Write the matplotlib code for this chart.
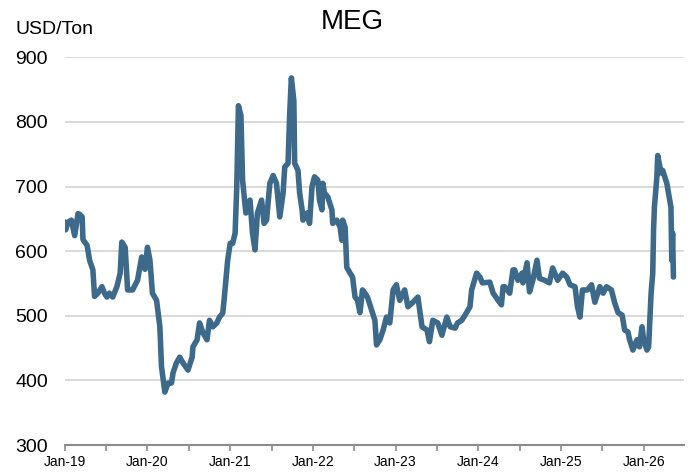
import matplotlib
matplotlib.use("Agg")
import matplotlib.pyplot as plt
from matplotlib.ticker import FixedLocator, MultipleLocator

plt.rcParams['font.family'] = ['Liberation Sans', 'DejaVu Sans']

# Time expressed in decimal years (2019.0 = Jan-19)
years = [
    2019.00, 2019.01, 2019.04, 2019.08, 2019.12, 2019.16, 2019.18, 2019.21, 2019.22, 2019.27,
    2019.30, 2019.34, 2019.36, 2019.40, 2019.45, 2019.48, 2019.51, 2019.54, 2019.58, 2019.63,
    2019.67, 2019.69, 2019.73, 2019.76, 2019.82, 2019.88, 2019.93, 2019.97, 2020.00, 2020.03,
    2020.06, 2020.11, 2020.15, 2020.17, 2020.21, 2020.25, 2020.29, 2020.31, 2020.35, 2020.39,
    2020.43, 2020.49, 2020.54, 2020.55, 2020.60, 2020.63, 2020.67, 2020.72, 2020.75, 2020.79,
    2020.84, 2020.87, 2020.91, 2020.93, 2020.97, 2021.00, 2021.03, 2021.06, 2021.08, 2021.10,
    2021.13, 2021.15, 2021.19, 2021.24, 2021.27, 2021.30, 2021.33, 2021.38, 2021.41, 2021.44,
    2021.48, 2021.52, 2021.56, 2021.60, 2021.64, 2021.66, 2021.70, 2021.72, 2021.74, 2021.77,
    2021.78, 2021.82, 2021.84, 2021.87, 2021.88, 2021.93, 2021.96, 2021.99, 2022.02, 2022.06,
    2022.08, 2022.11, 2022.12, 2022.14, 2022.18, 2022.23, 2022.24, 2022.29, 2022.33, 2022.35,
    2022.36, 2022.39, 2022.41, 2022.45, 2022.48, 2022.51, 2022.54, 2022.57, 2022.60, 2022.63,
    2022.66, 2022.71, 2022.75, 2022.77, 2022.81, 2022.85, 2022.89, 2022.93, 2022.97, 2023.01,
    2023.05, 2023.11, 2023.15, 2023.21, 2023.27, 2023.32, 2023.38, 2023.41, 2023.45, 2023.51,
    2023.56, 2023.62, 2023.66, 2023.72, 2023.75, 2023.80, 2023.84, 2023.90, 2023.92, 2023.98,
    2024.02, 2024.05, 2024.14, 2024.18, 2024.24, 2024.28, 2024.30, 2024.32, 2024.38, 2024.42,
    2024.44, 2024.48, 2024.53, 2024.54, 2024.59, 2024.62, 2024.66, 2024.71, 2024.74, 2024.80,
    2024.86, 2024.90, 2024.96, 2025.02, 2025.07, 2025.11, 2025.17, 2025.20, 2025.23, 2025.26,
    2025.32, 2025.37, 2025.41, 2025.47, 2025.51, 2025.55, 2025.61, 2025.65, 2025.69, 2025.74,
    2025.77, 2025.81, 2025.83, 2025.87, 2025.92, 2025.95, 2025.98, 2026.00, 2026.04, 2026.06,
    2026.09, 2026.11, 2026.12, 2026.13, 2026.16, 2026.17, 2026.21, 2026.23, 2026.28, 2026.30,
    2026.33, 2026.34, 2026.35, 2026.36,
]

price = [
    645, 633, 645, 648, 624, 658, 657, 653, 618, 609,
    586, 571, 530, 535, 545, 535, 529, 535, 529, 545,
    566, 614, 606, 540, 540, 555, 591, 572, 606, 586,
    535, 524, 483, 421, 382, 396, 396, 412, 427, 436,
    427, 416, 436, 452, 463, 489, 474, 463, 493, 483,
    489, 498, 504, 529, 586, 612, 612, 628, 700, 825,
    810, 710, 659, 679, 628, 602, 659, 679, 643, 648,
    705, 717, 705, 653, 690, 730, 736, 813, 868, 833,
    736, 725, 690, 664, 648, 659, 643, 700, 715, 710,
    679, 664, 705, 690, 684, 664, 643, 648, 637, 617,
    648, 637, 575, 566, 560, 529, 524, 505, 540, 535,
    529, 509, 493, 455, 463, 478, 498, 489, 540, 548,
    524, 540, 514, 521, 529, 483, 478, 460, 493, 489,
    470, 498, 483, 481, 489, 493, 501, 514, 540, 566,
    560, 551, 552, 535, 524, 517, 545, 545, 535, 571,
    571, 555, 566, 551, 582, 537, 555, 586, 558, 555,
    551, 574, 555, 566, 560, 548, 545, 514, 498, 540,
    540, 548, 521, 545, 535, 545, 540, 520, 505, 501,
    478, 475, 463, 447, 463, 452, 483, 463, 447, 452,
    535, 566, 633, 668, 715, 748, 721, 725, 705, 690,
    668, 586, 628, 560,
]

tick_years = [2019, 2020, 2021, 2022, 2023, 2024, 2025, 2026]
tick_labels = ['Jan-19', 'Jan-20', 'Jan-21', 'Jan-22', 'Jan-23', 'Jan-24', 'Jan-25', 'Jan-26']
y_ticks = [300, 400, 500, 600, 700, 800, 900]

fig = plt.figure(figsize=(6.89, 4.73), dpi=100)
ax = fig.add_axes([0.094, 0.059, 0.899, 0.820])

ax.plot(years, price, color='#3d6a8a', linewidth=4.0, solid_joinstyle='round',
        solid_capstyle='round', zorder=3)

ax.set_xlim(2019.0, 2026.49)
ax.set_ylim(300, 900)
ax.set_yticks(y_ticks)
ax.set_yticklabels([str(v) for v in y_ticks], fontsize=14)
ax.yaxis.grid(True, color='#d4d4d4', linewidth=1.2)
ax.set_axisbelow(True)
ax.tick_params(axis='y', length=0, pad=12)

ax.xaxis.set_major_locator(FixedLocator(tick_years))
ax.set_xticklabels(tick_labels, fontsize=10)
ax.xaxis.set_minor_locator(MultipleLocator(0.5))
ax.tick_params(axis='x', which='both', direction='out', length=4, color='#8c8c8c', width=1.2, pad=3)

for s in ['top', 'right', 'left']:
    ax.spines[s].set_visible(False)
ax.spines['bottom'].set_color('#8c8c8c')
ax.spines['bottom'].set_linewidth(1.5)

fig.text(0.512, 0.953, 'MEG', fontsize=20, ha='center', va='center')
fig.text(0.022, 0.937, 'USD/Ton', fontsize=14, ha='left', va='center')

fig.savefig('out.png', dpi=100)
